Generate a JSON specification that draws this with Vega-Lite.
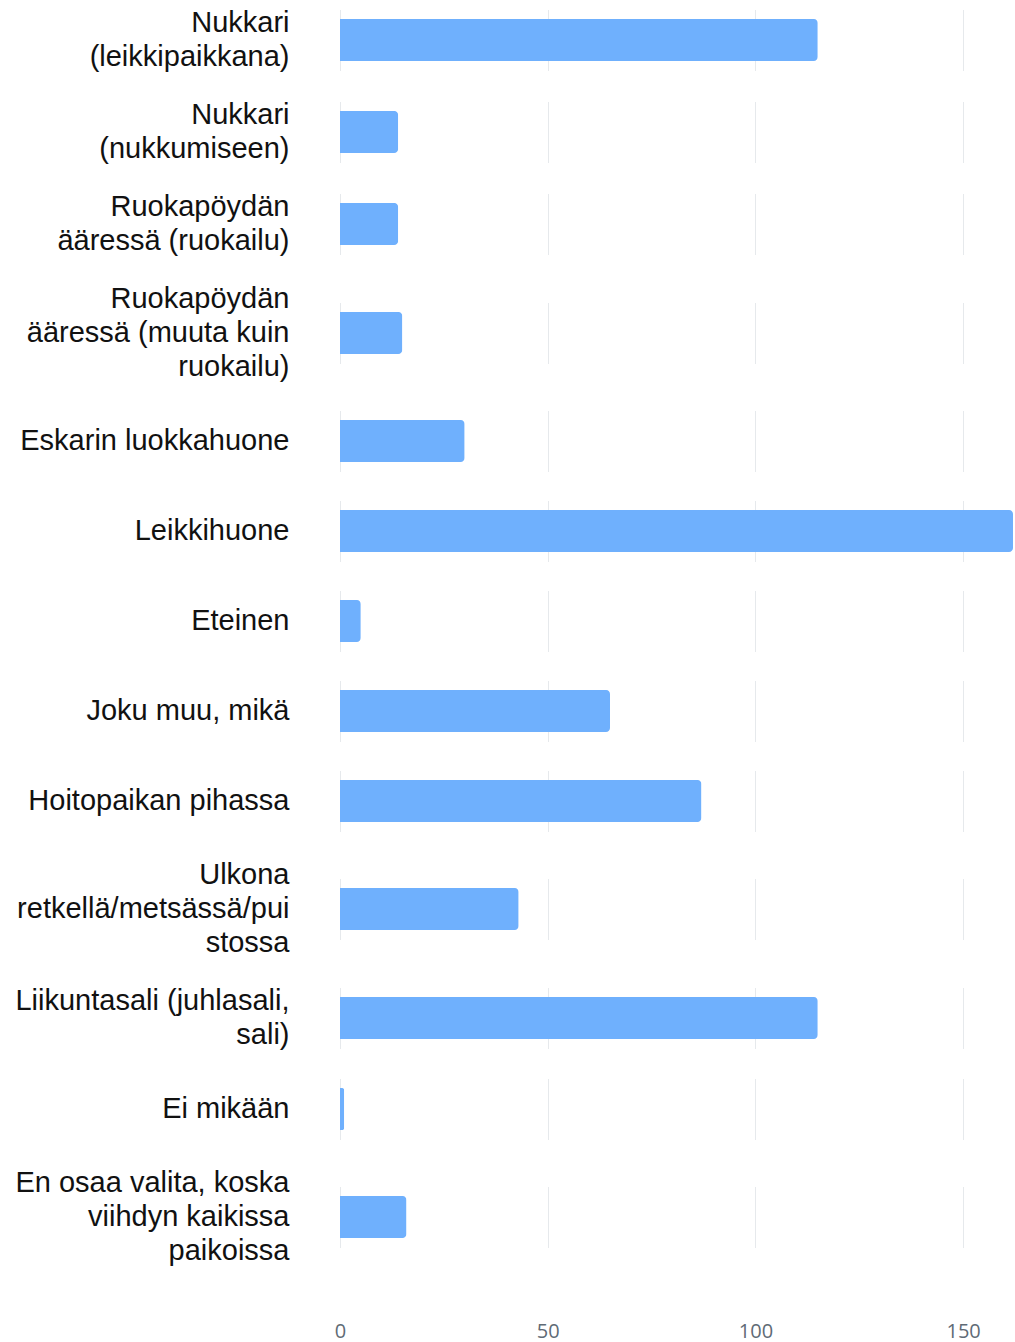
{
  "$schema": "https://vega.github.io/schema/vega-lite/v6.json",
  "padding": {"left": 14, "top": 8.5, "right": 0, "bottom": 0},
  "spacing": 29,
  "data": {
    "values": [
      {"category": "Nukkari (leikkipaikkana)", "label": "Nukkari\n(leikkipaikkana)", "count": 115},
      {"category": "Nukkari (nukkumiseen)", "label": "Nukkari\n(nukkumiseen)", "count": 14},
      {"category": "Ruokapöydän ääressä (ruokailu)", "label": "Ruokapöydän\nääressä (ruokailu)", "count": 14},
      {"category": "Ruokapöydän ääressä (muuta kuin ruokailu)", "label": "Ruokapöydän\nääressä (muuta kuin\nruokailu)", "count": 15},
      {"category": "Eskarin luokkahuone", "label": "Eskarin luokkahuone", "count": 30},
      {"category": "Leikkihuone", "label": "Leikkihuone", "count": 162},
      {"category": "Eteinen", "label": "Eteinen", "count": 5},
      {"category": "Joku muu, mikä", "label": "Joku muu, mikä", "count": 65},
      {"category": "Hoitopaikan pihassa", "label": "Hoitopaikan pihassa", "count": 87},
      {"category": "Ulkona retkellä/metsässä/puistossa", "label": "Ulkona\nretkellä/metsässä/pui\nstossa", "count": 43},
      {"category": "Liikuntasali (juhlasali, sali)", "label": "Liikuntasali (juhlasali,\nsali)", "count": 115},
      {"category": "Ei mikään", "label": "Ei mikään", "count": 1},
      {"category": "En osaa valita, koska viihdyn kaikissa paikoissa", "label": "En osaa valita, koska\nviihdyn kaikissa\npaikoissa", "count": 16}
    ]
  },
  "vconcat": [
    {"height": 61, "width": 673, "transform": [{"filter": {"field": "category", "equal": "Nukkari (leikkipaikkana)"}}],
     "mark": {"type": "bar", "color": "#6fb0fd", "cornerRadiusEnd": 4},
     "encoding": {"y": {"field": "label", "type": "nominal", "title": null, "scale": {"paddingInner": 0, "paddingOuter": 0.226}, "axis": {"labelExpr": "split(datum.value, '\\n')", "labelOffset": -17}},
                  "x": {"field": "count", "type": "quantitative", "title": null, "scale": {"domain": [0, 162], "nice": false}, "axis": {"values": [0, 50, 100, 150], "labels": false}}}},
    {"height": 61, "width": 673, "transform": [{"filter": {"field": "category", "equal": "Nukkari (nukkumiseen)"}}],
     "mark": {"type": "bar", "color": "#6fb0fd", "cornerRadiusEnd": 4},
     "encoding": {"y": {"field": "label", "type": "nominal", "title": null, "scale": {"paddingInner": 0, "paddingOuter": 0.226}, "axis": {"labelExpr": "split(datum.value, '\\n')", "labelOffset": -17}},
                  "x": {"field": "count", "type": "quantitative", "title": null, "scale": {"domain": [0, 162], "nice": false}, "axis": {"values": [0, 50, 100, 150], "labels": false}}}},
    {"height": 61, "width": 673, "transform": [{"filter": {"field": "category", "equal": "Ruokapöydän ääressä (ruokailu)"}}],
     "mark": {"type": "bar", "color": "#6fb0fd", "cornerRadiusEnd": 4},
     "encoding": {"y": {"field": "label", "type": "nominal", "title": null, "scale": {"paddingInner": 0, "paddingOuter": 0.226}, "axis": {"labelExpr": "split(datum.value, '\\n')", "labelOffset": -17}},
                  "x": {"field": "count", "type": "quantitative", "title": null, "scale": {"domain": [0, 162], "nice": false}, "axis": {"values": [0, 50, 100, 150], "labels": false}}}},
    {"height": 61, "width": 673, "transform": [{"filter": {"field": "category", "equal": "Ruokapöydän ääressä (muuta kuin ruokailu)"}}],
     "mark": {"type": "bar", "color": "#6fb0fd", "cornerRadiusEnd": 4},
     "encoding": {"y": {"field": "label", "type": "nominal", "title": null, "scale": {"paddingInner": 0, "paddingOuter": 0.226}, "axis": {"labelExpr": "split(datum.value, '\\n')", "labelOffset": -34}},
                  "x": {"field": "count", "type": "quantitative", "title": null, "scale": {"domain": [0, 162], "nice": false}, "axis": {"values": [0, 50, 100, 150], "labels": false}}}},
    {"height": 61, "width": 673, "transform": [{"filter": {"field": "category", "equal": "Eskarin luokkahuone"}}],
     "mark": {"type": "bar", "color": "#6fb0fd", "cornerRadiusEnd": 4},
     "encoding": {"y": {"field": "label", "type": "nominal", "title": null, "scale": {"paddingInner": 0, "paddingOuter": 0.226}, "axis": {"labelExpr": "split(datum.value, '\\n')"}},
                  "x": {"field": "count", "type": "quantitative", "title": null, "scale": {"domain": [0, 162], "nice": false}, "axis": {"values": [0, 50, 100, 150], "labels": false}}}},
    {"height": 61, "width": 673, "transform": [{"filter": {"field": "category", "equal": "Leikkihuone"}}],
     "mark": {"type": "bar", "color": "#6fb0fd", "cornerRadiusEnd": 4},
     "encoding": {"y": {"field": "label", "type": "nominal", "title": null, "scale": {"paddingInner": 0, "paddingOuter": 0.226}, "axis": {"labelExpr": "split(datum.value, '\\n')"}},
                  "x": {"field": "count", "type": "quantitative", "title": null, "scale": {"domain": [0, 162], "nice": false}, "axis": {"values": [0, 50, 100, 150], "labels": false}}}},
    {"height": 61, "width": 673, "transform": [{"filter": {"field": "category", "equal": "Eteinen"}}],
     "mark": {"type": "bar", "color": "#6fb0fd", "cornerRadiusEnd": 4},
     "encoding": {"y": {"field": "label", "type": "nominal", "title": null, "scale": {"paddingInner": 0, "paddingOuter": 0.226}, "axis": {"labelExpr": "split(datum.value, '\\n')"}},
                  "x": {"field": "count", "type": "quantitative", "title": null, "scale": {"domain": [0, 162], "nice": false}, "axis": {"values": [0, 50, 100, 150], "labels": false}}}},
    {"height": 61, "width": 673, "transform": [{"filter": {"field": "category", "equal": "Joku muu, mikä"}}],
     "mark": {"type": "bar", "color": "#6fb0fd", "cornerRadiusEnd": 4},
     "encoding": {"y": {"field": "label", "type": "nominal", "title": null, "scale": {"paddingInner": 0, "paddingOuter": 0.226}, "axis": {"labelExpr": "split(datum.value, '\\n')"}},
                  "x": {"field": "count", "type": "quantitative", "title": null, "scale": {"domain": [0, 162], "nice": false}, "axis": {"values": [0, 50, 100, 150], "labels": false}}}},
    {"height": 61, "width": 673, "transform": [{"filter": {"field": "category", "equal": "Hoitopaikan pihassa"}}],
     "mark": {"type": "bar", "color": "#6fb0fd", "cornerRadiusEnd": 4},
     "encoding": {"y": {"field": "label", "type": "nominal", "title": null, "scale": {"paddingInner": 0, "paddingOuter": 0.226}, "axis": {"labelExpr": "split(datum.value, '\\n')"}},
                  "x": {"field": "count", "type": "quantitative", "title": null, "scale": {"domain": [0, 162], "nice": false}, "axis": {"values": [0, 50, 100, 150], "labels": false}}}},
    {"height": 61, "width": 673, "transform": [{"filter": {"field": "category", "equal": "Ulkona retkellä/metsässä/puistossa"}}],
     "mark": {"type": "bar", "color": "#6fb0fd", "cornerRadiusEnd": 4},
     "encoding": {"y": {"field": "label", "type": "nominal", "title": null, "scale": {"paddingInner": 0, "paddingOuter": 0.226}, "axis": {"labelExpr": "split(datum.value, '\\n')", "labelOffset": -34}},
                  "x": {"field": "count", "type": "quantitative", "title": null, "scale": {"domain": [0, 162], "nice": false}, "axis": {"values": [0, 50, 100, 150], "labels": false}}}},
    {"height": 61, "width": 673, "transform": [{"filter": {"field": "category", "equal": "Liikuntasali (juhlasali, sali)"}}],
     "mark": {"type": "bar", "color": "#6fb0fd", "cornerRadiusEnd": 4},
     "encoding": {"y": {"field": "label", "type": "nominal", "title": null, "scale": {"paddingInner": 0, "paddingOuter": 0.226}, "axis": {"labelExpr": "split(datum.value, '\\n')", "labelOffset": -17}},
                  "x": {"field": "count", "type": "quantitative", "title": null, "scale": {"domain": [0, 162], "nice": false}, "axis": {"values": [0, 50, 100, 150], "labels": false}}}},
    {"height": 61, "width": 673, "transform": [{"filter": {"field": "category", "equal": "Ei mikään"}}],
     "mark": {"type": "bar", "color": "#6fb0fd", "cornerRadiusEnd": 4},
     "encoding": {"y": {"field": "label", "type": "nominal", "title": null, "scale": {"paddingInner": 0, "paddingOuter": 0.226}, "axis": {"labelExpr": "split(datum.value, '\\n')"}},
                  "x": {"field": "count", "type": "quantitative", "title": null, "scale": {"domain": [0, 162], "nice": false}, "axis": {"values": [0, 50, 100, 150], "labels": false}}}},
    {"height": 61, "width": 673, "transform": [{"filter": {"field": "category", "equal": "En osaa valita, koska viihdyn kaikissa paikoissa"}}],
     "mark": {"type": "bar", "color": "#6fb0fd", "cornerRadiusEnd": 4},
     "encoding": {"y": {"field": "label", "type": "nominal", "title": null, "scale": {"paddingInner": 0, "paddingOuter": 0.226}, "axis": {"labelExpr": "split(datum.value, '\\n')", "labelOffset": -34}},
                  "x": {"field": "count", "type": "quantitative", "title": null, "scale": {"domain": [0, 162], "nice": false}, "axis": {"values": [0, 50, 100, 150], "labels": true, "labelPadding": 74}}}}
  ],
  "config": {
    "view": {"stroke": null},
    "axisY": {"domain": false, "ticks": false, "tickSize": 0, "grid": false, "labelFont": "Liberation Sans", "labelFontSize": 29, "labelLineHeight": 34, "labelColor": "#111111", "labelPadding": 51, "labelLimit": 400},
    "axisX": {"domain": false, "ticks": false, "tickSize": 0, "grid": true, "gridColor": "#e6e9ec", "gridWidth": 1, "labelFont": "Open Sans", "labelFontSize": 20, "labelColor": "#5f6b76", "labelFlush": false}
  }
}
